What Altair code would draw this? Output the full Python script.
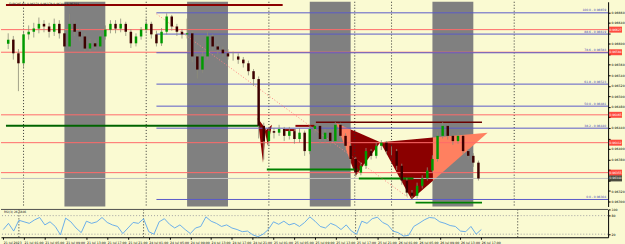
import altair as alt
import pandas as pd
import numpy as np

# ---------------- data ----------------
# trading-hour index: 0 = 21 Jul 2023 00:00 (weekend removed), one bar per hour
bar_hour = list(range(-3, 90))
first_open_pts = 96600
close_pts = [96608,96582,96563,96618,96623,96629,96638,96633,96623,96638,
             96620,96595,96638,96623,96614,96591,96601,96595,96614,96627,
             96638,96629,96638,96623,96601,96614,96627,96638,96618,96601,
             96623,96652,96633,96623,96618,96620,96576,96551,96576,96614,
             96595,96589,96582,96576,96576,96570,96563,96548,96533,96444,
             96415,96434,96431,96438,96425,96434,96419,96431,96396,96438,
             96444,96419,96431,96415,96446,96425,96406,96381,96355,96368,
             96396,96387,96406,96412,96396,96396,96368,96340,96317,96311,
             96330,96344,96359,96381,96425,96444,96425,96415,96425,96396,
             96387,96374,96344]
high_pts = [96620,96615,96590,96625,96635,96640,96650,96645,96640,96648,
            96645,96628,96657,96645,96630,96620,96610,96608,96620,96635,
            96645,96645,96648,96642,96628,96620,96632,96648,96642,96625,
            96630,96658,96655,96638,96628,96648,96625,96580,96585,96623,
            96618,96600,96595,96590,96585,96582,96575,96568,96552,96538,
            96450,96442,96440,96446,96442,96442,96438,96440,96435,96445,
            96450,96448,96438,96436,96451,96450,96430,96410,96385,96375,
            96402,96400,96412,96417,96415,96405,96400,96372,96345,96322,
            96336,96350,96365,96388,96432,96451,96448,96430,96432,96428,
            96400,96392,96378]
low_pts = [96590,96570,96510,96555,96608,96612,96620,96622,96612,96615,
           96610,96585,96590,96615,96605,96585,96585,96588,96590,96608,
           96620,96620,96622,96615,96592,96595,96608,96620,96610,96595,
           96596,96618,96625,96615,96610,96610,96565,96534,96545,96570,
           96588,96580,96575,96570,96568,96562,96555,96540,96520,96420,
           96380,96405,96420,96425,96415,96418,96410,96412,96387,96390,
           96430,96410,96412,96405,96410,96418,96398,96372,96347,96350,
           96362,96380,96382,96398,96390,96388,96360,96332,96310,96304,
           96306,96325,96340,96355,96376,96420,96418,96408,96410,96390,
           96380,96366,96340]
rsi3 = [35,55,30,65,60,55,66,74,50,60,
        45,18,72,60,40,25,62,55,60,74,
        58,50,45,22,40,58,55,70,28,20,
        60,70,52,40,50,35,22,40,45,76,
        62,55,45,50,40,35,28,30,18,12,
        20,35,60,52,62,50,55,45,58,76,
        62,45,40,55,48,35,50,30,20,62,
        55,70,75,58,50,30,25,14,16,45,
        55,66,74,72,60,55,48,45,30,28,
        45,20,35]

session_start = [8, 32, 56, 80]
session_end = [16, 40, 64, 88]
separators = [0, 24, 48, 64.8, 72, 96]

red_levels = [0.96627, 0.96584, 0.96465, 0.96412, 0.96355]
bid_price = 0.96344
fib_levels = [100.0, 88.6, 78.6, 61.8, 50.0, 38.2, 0.0]
fib_high, fib_low, fib_start = 0.96659, 0.96304, 26.0

top_line = (-3.44, 50.7, 0.96674)
support_line = (-3.44, 46.3, 0.96444)
resist_line = (57.2, 89.7, 0.96451)
short_lines = [(51.2, 53.2, 0.96436), (53.2, 57.0, 0.96444)]
green_lines = [(47.6, 65.4, 0.96361), (65.6, 76.3, 0.96344), (76.7, 89.7, 0.96298)]
diag_h = [26.0, 75.5]
diag_p = [0.96657, 0.96306]

# triangles: vertices (hour, price), split hour, colour left / right of split
triangles = [
    ([(45.8, 0.96459), (46.85, 0.96374), (47.4, 0.96438)], 99, "#8b0000", "#8b0000"),
    ([(47.2, 0.96434), (47.8, 0.96406), (48.6, 0.96446)], 99, "#8b0000", "#8b0000"),
    ([(61.2, 0.96449), (65.0, 0.96349), (69.8, 0.96413)], 64.0, "#ff8060", "#8b0000"),
    ([(69.8, 0.96413), (75.9, 0.96304), (90.8, 0.96431)], 80.1, "#8b0000", "#ff8060"),
]

tick_hours = list(range(-3, 90, 4))
tick_labels = ["21 Jul 2023", "21 Jul 01:00", "21 Jul 05:00", "21 Jul 09:00",
               "21 Jul 13:00", "21 Jul 17:00", "21 Jul 21:00", "24 Jul 01:00",
               "24 Jul 05:00", "24 Jul 09:00", "24 Jul 13:00", "24 Jul 17:00",
               "24 Jul 21:00", "25 Jul 01:00", "25 Jul 05:00", "25 Jul 09:00",
               "25 Jul 13:00", "25 Jul 17:00", "25 Jul 21:00", "26 Jul 01:00",
               "26 Jul 05:00", "26 Jul 09:00", "26 Jul 13:00", "26 Jul 17:00"]
price_ticks = [0.9630, 0.9632, 0.9634, 0.9636, 0.9638, 0.9640, 0.9642, 0.9644,
               0.9646, 0.9648, 0.9650, 0.9652, 0.9654, 0.9656, 0.9658, 0.9660,
               0.9662, 0.9664, 0.9666]
rsi_ticks = [100, 80, 20]
rsi_levels = [80, 20]
header = "EURCHF,H1  0.96374 0.96378 0.96340 0.96344"
rsi_title = "RSI(3) 26.5846"

# ---------------- chart ----------------
W, HM, HR = 611, 206, 28
BG = "#fafad2"
FONT = "DejaVu Sans"
xs = alt.Scale(domain=[-3.44, 113.4], nice=False, zero=False)
ys = alt.Scale(domain=[0.962907, 0.96680], nice=False, zero=False)

# axis labels that sit under a price tag are hidden (the tag covers them)
tag_prices = red_levels + [bid_price]
hide_cond = " || ".join(f"abs(datum.value - {p}) < 0.00009" for p in tag_prices)
price_label_expr = f"({hide_cond}) ? '' : format(datum.value, '.5f')"

yaxis = alt.Axis(orient="right", values=price_ticks, labelExpr=price_label_expr, title=None,
                 labelFontSize=3.2, tickSize=2, labelPadding=1, grid=False,
                 domainColor="#000000", tickColor="#000000", labelColor="#000000")


def X(f):
    return alt.X(f, scale=xs, axis=None)


def Y(f):
    return alt.Y(f, scale=ys, axis=yaxis)


opens = [first_open_pts] + close_pts[:-1]
candles = pd.DataFrame({
    "h": bar_hour,
    "o": [v / 1e5 for v in opens],
    "c": [v / 1e5 for v in close_pts],
    "hi": [v / 1e5 for v in high_pts],
    "lo": [v / 1e5 for v in low_pts],
})
candles["col"] = np.where(candles["c"] >= candles["o"], "#009a00", "#3c0000")

bands = pd.DataFrame({"s": session_start, "e": session_end})
band_layer = alt.Chart(bands).mark_rect(color="#808080").encode(
    x=X("s:Q"), x2="e:Q", y=alt.value(0), y2=alt.value(HM))

tri_rows = []
for gi, (verts, split, cl, cr) in enumerate(triangles):
    v = sorted(verts)
    hs = [p[0] for p in v]
    ps = [p[1] for p in v]
    pieces = [(hs[0], min(split, hs[2]), cl), (max(split, hs[0]), hs[2], cr)]
    for k, (lo, hi, col) in enumerate(pieces):
        if hi <= lo:
            continue
        pts = sorted(set([lo, hi] + [h for h in hs if lo < h < hi]))
        for h in pts:
            tri_rows.append({"h": h,
                             "top": float(np.interp(h, [hs[0], hs[2]], [ps[0], ps[2]])),
                             "bot": float(np.interp(h, hs, ps)),
                             "grp": f"{gi}-{k}", "col": col})
tri_layer = alt.Chart(pd.DataFrame(tri_rows)).mark_area(opacity=1).encode(
    x=X("h:Q"), y=Y("top:Q"), y2="bot:Q", detail="grp:N",
    color=alt.Color("col:N", scale=None))

sep_layer = alt.Chart(pd.DataFrame({"h": separators})).mark_rule(
    color="#303030", strokeDash=[1, 2], strokeWidth=1).encode(x=X("h:Q"))

red_layer = alt.Chart(pd.DataFrame({"p": red_levels})).mark_rule(
    color="#ff6a6a", strokeWidth=1).encode(y=Y("p:Q"))
bid_layer = alt.Chart(pd.DataFrame({"p": [bid_price]})).mark_rule(
    color="#c0c0c0", strokeWidth=1).encode(y=Y("p:Q"))

fib_df = pd.DataFrame({"lvl": fib_levels})
fib_df["p"] = fib_low + (fib_high - fib_low) * fib_df["lvl"] / 100.0
fib_df["x0"] = fib_start
fib_df["lab"] = [f"{l:.1f} - {p:.5f}" for l, p in zip(fib_df["lvl"], fib_df["p"])]
fib_layer = alt.Chart(fib_df).mark_rule(color="#5a5ac8", strokeWidth=1).encode(
    x=X("x0:Q"), x2=alt.value(W), y=Y("p:Q"))
fib_text = alt.Chart(fib_df).mark_text(
    align="right", baseline="bottom", fontSize=3, color="#4646b4", font=FONT, dy=-0.5
).encode(x=alt.value(W - 2), y=Y("p:Q"), text="lab:N")


def seg_df(items):
    return pd.DataFrame({"a": [s[0] for s in items], "b": [s[1] for s in items],
                         "p": [s[2] for s in items]})


def seg_layer(items, color, width, dash=None):
    kw = {"color": color, "strokeWidth": width}
    if dash:
        kw["strokeDash"] = dash
    return alt.Chart(seg_df(items)).mark_rule(**kw).encode(
        x=X("a:Q"), x2="b:Q", y=Y("p:Q"))


top_layer = seg_layer([top_line], "#8b0000", 2)
support_layer = seg_layer([support_line], "#006400", 2)
resist_layer = seg_layer([resist_line], "#6b0000", 1.5)
short_layer = seg_layer(short_lines, "#8b0000", 2)
green_layer = seg_layer(green_lines, "#008000", 2)

diag_layer = alt.Chart(pd.DataFrame({"h": diag_h, "p": diag_p})).mark_line(
    color="#ff8080", strokeDash=[1, 2], strokeWidth=1).encode(x=X("h:Q"), y=Y("p:Q"))

wick_layer = alt.Chart(candles).mark_rule(color="#8c8c78", strokeWidth=0.8).encode(
    x=X("h:Q"), y=Y("lo:Q"), y2="hi:Q")
body_layer = alt.Chart(candles).mark_bar(size=2.5).encode(
    x=X("h:Q"), y=Y("o:Q"), y2="c:Q", color=alt.Color("col:N", scale=None))

tags = pd.DataFrame({"p": tag_prices,
                     "col": ["#ff0000"] * len(red_levels) + ["#000000"]})
tag_layer = alt.Chart(tags).mark_tick(orient="horizontal", size=13, thickness=6).encode(
    x=alt.value(618.5), y=Y("p:Q"), color=alt.Color("col:N", scale=None))
tag_text = alt.Chart(tags).mark_text(color="white", fontSize=3, font=FONT).encode(
    x=alt.value(618.5), y=Y("p:Q"), text=alt.Text("p:Q", format=".5f"))

head_text = alt.Chart(pd.DataFrame({"t": [header]})).mark_text(
    align="left", baseline="top", fontSize=3, color="#202020", font=FONT).encode(
    x=alt.value(8), y=alt.value(1), text="t:N")

main = alt.layer(band_layer, tri_layer, sep_layer, red_layer, bid_layer, fib_layer,
                 top_layer, support_layer, resist_layer, short_layer, green_layer,
                 diag_layer, wick_layer, body_layer, fib_text, tag_layer, tag_text,
                 head_text).properties(width=W, height=HM)

# ---------------- RSI panel ----------------
label_js = "[" + ",".join(f"'{s}'" for s in tick_labels) + "][(datum.value + 3) / 4]"
xaxis = alt.Axis(values=tick_hours, labelExpr=label_js, title=None, grid=False,
                 labelFontSize=3.2, labelAlign="left", labelPadding=1, tickSize=2,
                 labelFlush=False, labelOverlap=False, labelColor="#000000",
                 domainColor="#000000", tickColor="#000000", labelFont=FONT)
rs = alt.Scale(domain=[10, 100], nice=False, zero=False)
raxis = alt.Axis(orient="right", values=rsi_ticks, title=None, grid=False,
                 labelFontSize=3.2, tickSize=2, labelPadding=1, labelColor="#000000",
                 domainColor="#000000", tickColor="#000000", labelFont=FONT)


def XR(f):
    return alt.X(f, scale=xs, axis=xaxis)


def YR(f):
    return alt.Y(f, scale=rs, axis=raxis)


rsi_df = pd.DataFrame({"h": bar_hour, "r": rsi3})
rsi_line = alt.Chart(rsi_df).mark_line(color="#5aa5ec", strokeWidth=0.9).encode(
    x=XR("h:Q"), y=YR("r:Q"))
rsi_lv = alt.Chart(pd.DataFrame({"r": rsi_levels})).mark_rule(
    color="#a0a0a0", strokeDash=[1, 2]).encode(y=YR("r:Q"))
rsi_top = alt.Chart(pd.DataFrame({"r": [100]})).mark_rule(
    color="#505050", strokeWidth=1).encode(y=YR("r:Q"))
rsi_sep = alt.Chart(pd.DataFrame({"h": separators})).mark_rule(
    color="#303030", strokeDash=[1, 2]).encode(x=XR("h:Q"))
rsi_txt = alt.Chart(pd.DataFrame({"t": [rsi_title]})).mark_text(
    align="left", baseline="top", fontSize=3, color="#202020", font=FONT).encode(
    x=alt.value(3), y=alt.value(2), text="t:N")

rsi = alt.layer(rsi_lv, rsi_sep, rsi_line, rsi_top, rsi_txt).properties(width=W, height=HR)

chart = alt.vconcat(main, rsi, spacing=0).properties(
    background=BG, padding={"left": 0, "top": 0, "right": 0, "bottom": 0}
).configure_view(stroke=None, fill=BG).configure_axis(labelFont=FONT)

chart.save("out.html", embed_options={"renderer": "svg", "actions": False})
